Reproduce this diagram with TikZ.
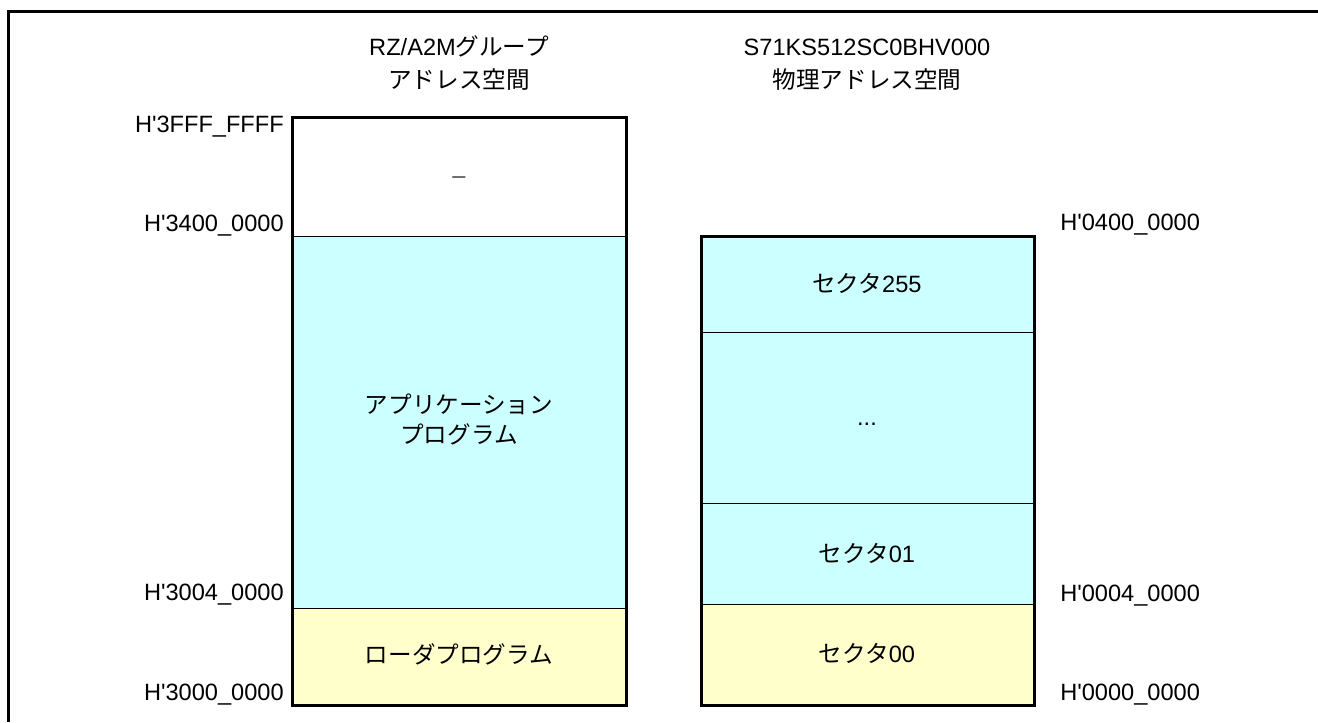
\documentclass[tikz,border=0pt]{standalone}
\usepackage{fontspec}
\usepackage{tikz}
\setmainfont{Liberation Sans}[Ligatures=TeXOff]
\newfontfamily\jpfont{Noto Sans CJK JP}
\usetikzlibrary{positioning}

\definecolor{memcyan}{RGB}{204,255,255}
\definecolor{memyellow}{RGB}{255,255,204}

\tikzset{
    memtxt/.style={anchor=base,inner sep=0.75pt,font=\fontsize{17.7}{21}\selectfont},
    addrL/.style={memtxt,anchor=base east},
    addrR/.style={memtxt,anchor=base west},
    thinline/.style={line width=0.75pt},
    thickline/.style={line width=2.25pt,line join=miter}
}

\begin{document}
\begin{tikzpicture}[x=0.75pt,y=0.75pt,yscale=-1,xscale=1]
    \path[use as bounding box] (0,0) rectangle (1318,722);

    %Frame
    \draw [thickline] (8,722) -- (8,11) -- (1318,11) ;

    %Left map: fills
    \fill [white] (292,117) rectangle (626,236) ;
    \fill [memcyan] (292,236) rectangle (626,608) ;
    \fill [memyellow] (292,608) rectangle (626,705) ;
    \draw [thinline] (292,236) -- (626,236) ;
    \draw [thinline] (292,608) -- (626,608) ;
    \draw [thickline] (292,117) rectangle (626,705) ;

    %Right map: fills
    \fill [memcyan] (701,236) rectangle (1034,604) ;
    \fill [memyellow] (701,604) rectangle (1034,705) ;
    \draw [thinline] (701,332) -- (1034,332) ;
    \draw [thinline] (701,503) -- (1034,503) ;
    \draw [thinline] (701,604) -- (1034,604) ;
    \draw [thickline] (701,236) rectangle (1034,705) ;

    % Titles
    \node (ttlA1) [memtxt] at (459,55) {RZ/A2M{\jpfont グループ}};
    \node (ttlA2) [memtxt] at (459,88) {\jpfont アドレス空間};
    \node (ttlB1) [memtxt] at (867,55) {S71KS512SC0BHV000};
    \node (ttlB2) [memtxt] at (867,88) {\jpfont 物理アドレス空間};

    % Address labels
    \node (a3fff) [addrL] at (285,132) {H\textquotesingle 3FFF\_FFFF};
    \node (a3400) [addrL] at (285,231) {H\textquotesingle 3400\_0000};
    \node (a3004) [addrL] at (285,600) {H\textquotesingle 3004\_0000};
    \node (a3000) [addrL] at (285,700) {H\textquotesingle 3000\_0000};
    \node (b0400) [addrR] at (1059,230) {H\textquotesingle 0400\_0000};
    \node (b0004) [addrR] at (1059,601) {H\textquotesingle 0004\_0000};
    \node (b0000) [addrR] at (1059,700) {H\textquotesingle 0000\_0000};

    % Region texts
    \node (rsv) [memtxt,text=black!70] at (459,183) {–};
    \node (app1) [memtxt] at (459,413) {\jpfont アプリケーション};
    \node (app2) [memtxt] at (459,443) {\jpfont プログラム};
    \node (ldr) [memtxt] at (459,663) {\jpfont ローダプログラム};
    \node (sec255) [memtxt] at (867,292) {{\jpfont セクタ}255};
    \node (dots) [memtxt] at (867,425) {...};
    \node (sec01) [memtxt] at (867,562) {{\jpfont セクタ}01};
    \node (sec00) [memtxt] at (867,662) {{\jpfont セクタ}00};

\end{tikzpicture}
\end{document}
